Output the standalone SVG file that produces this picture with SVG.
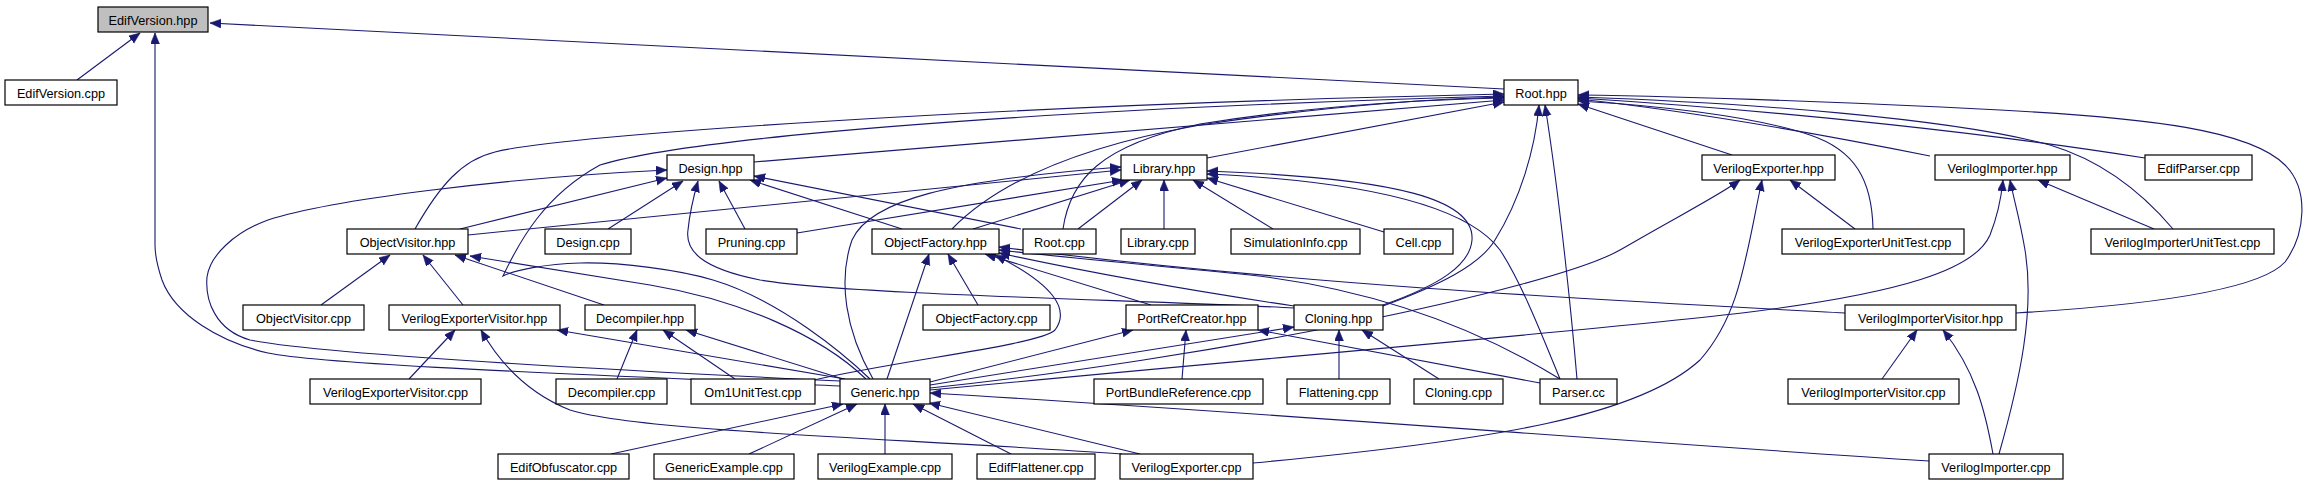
<svg xmlns="http://www.w3.org/2000/svg" width="2308" height="485" viewBox="0 0 2308 485">
<style>
.n rect{fill:#ffffff;stroke:#000000;stroke-width:1.2}
.n.root rect{fill:#bfbfbf}
.n text{font-family:"Liberation Sans",Arial,Helvetica,sans-serif;font-size:12.7px;fill:#000000;text-anchor:middle}
.e path{fill:none;stroke:#191970;stroke-width:1.1;marker-end:url(#arr)}
</style>
<defs>
<marker id="arr" markerUnits="userSpaceOnUse" markerWidth="12" markerHeight="10" refX="11" refY="4.5" orient="auto">
<path d="M0,0 L11,4.5 L0,9 z" fill="#191970" stroke="#191970" stroke-width="0.5"/>
</marker>
</defs>
<rect width="2308" height="485" fill="#ffffff"/>
<g id="edges" class="e">
<path d="M77,80 L140,33"/>
<path d="M840,386 C650,377 330,366 268,353 C220,342 175,315 162,280 C157,265 155,255 155,245 L155,33"/>
<path d="M1504,89 L210,23"/>
<path d="M754,162 L1504,100"/>
<path d="M1207,158 L1504,102"/>
<path d="M415,229 C440,185 462,160 495,152 C560,135 1000,105 1504,94"/>
<path d="M870,379 C845,355 780,300 713,280 C680,270 620,262 580,263 C545,264 515,270 503,276 C520,240 545,195 600,165 C680,140 1000,110 1504,96"/>
<path d="M840,381 C650,372 330,356 250,340 C215,330 205,300 207,277 C210,255 235,232 268,220 C330,200 500,178 667,170"/>
<path d="M952,229 C990,190 1060,150 1200,125 C1300,110 1400,100 1504,97"/>
<path d="M1063,229 C1070,180 1100,145 1200,124 C1300,108 1400,100 1504,98"/>
<path d="M1383,306 C1440,285 1480,265 1495,240 C1520,200 1535,150 1539,105"/>
<path d="M1383,305 C1440,285 1470,265 1472,240 C1475,200 1400,178 1207,171"/>
<path d="M1560,379 C1540,330 1520,280 1500,250 C1470,210 1380,182 1207,174"/>
<path d="M1577,379 C1572,320 1560,200 1545,105"/>
<path d="M1732,155 L1578,104"/>
<path d="M1930,156 C1850,140 1700,112 1578,99"/>
<path d="M2145,158 C2000,135 1800,112 1578,98"/>
<path d="M2016,313 C2150,305 2260,290 2285,262 C2305,235 2310,190 2285,165 C2250,130 2150,118 2000,110 C1800,100 1650,96 1578,95"/>
<path d="M2173,229 C2140,190 2100,160 2050,145 C1950,118 1750,103 1578,97"/>
<path d="M1873,229 C1872,180 1855,150 1810,135 C1750,115 1650,105 1578,101"/>
<path d="M608,229 L683,181"/>
<path d="M460,229 L667,178"/>
<path d="M1294,308 C1150,300 850,295 760,280 C700,268 685,250 688,230 C690,210 694,195 698,181"/>
<path d="M745,229 L719,181"/>
<path d="M902,229 L750,180"/>
<path d="M1021,229 L754,176"/>
<path d="M866,379 C820,335 740,300 650,285 L470,256"/>
<path d="M321,305 L390,255"/>
<path d="M463,305 L423,255"/>
<path d="M604,305 L455,255"/>
<path d="M468,235 L1121,170"/>
<path d="M873,379 C845,330 838,280 852,240 C870,200 950,180 1121,167"/>
<path d="M797,233 L1123,180"/>
<path d="M973,229 L1130,180"/>
<path d="M1078,229 L1142,180"/>
<path d="M1164,229 L1164,180"/>
<path d="M1273,229 L1193,180"/>
<path d="M1384,232 L1207,178"/>
<path d="M814,380 C900,360 1040,345 1055,330 C1070,310 1055,285 995,255"/>
<path d="M887,379 L929,254"/>
<path d="M978,305 L948,254"/>
<path d="M1151,305 L985,254"/>
<path d="M1294,306 C1200,292 1100,275 999,253"/>
<path d="M1845,313 C1600,300 1300,285 999,247"/>
<path d="M1560,379 C1480,330 1380,290 1250,275 C1150,265 1050,256 999,250"/>
<path d="M617,379 L637,330"/>
<path d="M735,379 L663,330"/>
<path d="M843,379 L686,330"/>
<path d="M845,379 L557,330"/>
<path d="M409,379 L455,330"/>
<path d="M1122,454 C900,438 640,432 570,410 C525,392 498,360 481,330"/>
<path d="M1182,379 L1186,330"/>
<path d="M930,382 L1133,330"/>
<path d="M1540,383 L1258,330"/>
<path d="M1339,379 L1339,330"/>
<path d="M1439,379 L1362,330"/>
<path d="M930,385 L1294,327"/>
<path d="M930,388 C1200,360 1550,290 1620,250 C1680,215 1720,195 1740,180"/>
<path d="M1253,463 C1500,440 1640,415 1700,360 C1740,315 1745,260 1762,180"/>
<path d="M1855,229 L1790,180"/>
<path d="M930,390 C1300,355 1600,330 1750,312 C1900,293 1975,270 1990,235 C1998,215 2001,200 2003,180"/>
<path d="M1999,454 C2020,380 2035,310 2025,250 C2020,220 2014,200 2010,180"/>
<path d="M2154,229 L2038,180"/>
<path d="M1882,379 L1917,330"/>
<path d="M1993,454 C1985,410 1975,370 1943,330"/>
<path d="M1929,461 C1600,440 1300,415 930,393"/>
<path d="M611,454 L843,404"/>
<path d="M749,454 L857,404"/>
<path d="M885,454 L885,404"/>
<path d="M1011,454 L913,404"/>
<path d="M1140,454 L929,403"/>
</g>
<g id="n_EdifVersion_hpp" class="n root"><rect x="98" y="7" width="110" height="25"/><text x="153" y="24.5">EdifVersion.hpp</text></g>
<g id="n_EdifVersion_cpp" class="n"><rect x="5" y="80" width="112" height="25"/><text x="61" y="97.5">EdifVersion.cpp</text></g>
<g id="n_Root_hpp" class="n"><rect x="1504" y="80" width="74" height="25"/><text x="1541" y="97.5">Root.hpp</text></g>
<g id="n_Design_hpp" class="n"><rect x="667" y="155" width="87" height="25"/><text x="710.5" y="172.5">Design.hpp</text></g>
<g id="n_Library_hpp" class="n"><rect x="1121" y="155" width="86" height="25"/><text x="1164" y="172.5">Library.hpp</text></g>
<g id="n_VerilogExporter_hpp" class="n"><rect x="1702" y="155" width="133" height="25"/><text x="1768.5" y="172.5">VerilogExporter.hpp</text></g>
<g id="n_VerilogImporter_hpp" class="n"><rect x="1935" y="155" width="135" height="25"/><text x="2002.5" y="172.5">VerilogImporter.hpp</text></g>
<g id="n_EdifParser_cpp" class="n"><rect x="2145" y="155" width="107" height="25"/><text x="2198.5" y="172.5">EdifParser.cpp</text></g>
<g id="n_ObjectVisitor_hpp" class="n"><rect x="347" y="229" width="121" height="25"/><text x="407.5" y="246.5">ObjectVisitor.hpp</text></g>
<g id="n_Design_cpp" class="n"><rect x="545" y="229" width="86" height="25"/><text x="588" y="246.5">Design.cpp</text></g>
<g id="n_Pruning_cpp" class="n"><rect x="706" y="229" width="91" height="25"/><text x="751.5" y="246.5">Pruning.cpp</text></g>
<g id="n_ObjectFactory_hpp" class="n"><rect x="872" y="229" width="127" height="25"/><text x="935.5" y="246.5">ObjectFactory.hpp</text></g>
<g id="n_Root_cpp" class="n"><rect x="1023" y="229" width="73" height="25"/><text x="1059.5" y="246.5">Root.cpp</text></g>
<g id="n_Library_cpp" class="n"><rect x="1121" y="229" width="74" height="25"/><text x="1158" y="246.5">Library.cpp</text></g>
<g id="n_SimulationInfo_cpp" class="n"><rect x="1231" y="229" width="129" height="25"/><text x="1295.5" y="246.5">SimulationInfo.cpp</text></g>
<g id="n_Cell_cpp" class="n"><rect x="1384" y="229" width="69" height="25"/><text x="1418.5" y="246.5">Cell.cpp</text></g>
<g id="n_VerilogExporterUnitTest_cpp" class="n"><rect x="1782" y="229" width="182" height="25"/><text x="1873" y="246.5">VerilogExporterUnitTest.cpp</text></g>
<g id="n_VerilogImporterUnitTest_cpp" class="n"><rect x="2091" y="229" width="183" height="25"/><text x="2182.5" y="246.5">VerilogImporterUnitTest.cpp</text></g>
<g id="n_ObjectVisitor_cpp" class="n"><rect x="243" y="305" width="121" height="25"/><text x="303.5" y="322.5">ObjectVisitor.cpp</text></g>
<g id="n_VerilogExporterVisitor_hpp" class="n"><rect x="389" y="305" width="171" height="25"/><text x="474.5" y="322.5">VerilogExporterVisitor.hpp</text></g>
<g id="n_Decompiler_hpp" class="n"><rect x="585" y="305" width="110" height="25"/><text x="640" y="322.5">Decompiler.hpp</text></g>
<g id="n_ObjectFactory_cpp" class="n"><rect x="923" y="305" width="127" height="25"/><text x="986.5" y="322.5">ObjectFactory.cpp</text></g>
<g id="n_PortRefCreator_hpp" class="n"><rect x="1126" y="305" width="132" height="25"/><text x="1192" y="322.5">PortRefCreator.hpp</text></g>
<g id="n_Cloning_hpp" class="n"><rect x="1294" y="305" width="89" height="25"/><text x="1338.5" y="322.5">Cloning.hpp</text></g>
<g id="n_VerilogImporterVisitor_hpp" class="n"><rect x="1845" y="305" width="171" height="25"/><text x="1930.5" y="322.5">VerilogImporterVisitor.hpp</text></g>
<g id="n_VerilogExporterVisitor_cpp" class="n"><rect x="310" y="379" width="171" height="25"/><text x="395.5" y="396.5">VerilogExporterVisitor.cpp</text></g>
<g id="n_Decompiler_cpp" class="n"><rect x="556" y="379" width="111" height="25"/><text x="611.5" y="396.5">Decompiler.cpp</text></g>
<g id="n_Om1UnitTest_cpp" class="n"><rect x="691" y="379" width="124" height="25"/><text x="753" y="396.5">Om1UnitTest.cpp</text></g>
<g id="n_Generic_hpp" class="n"><rect x="840" y="379" width="90" height="25"/><text x="885" y="396.5">Generic.hpp</text></g>
<g id="n_PortBundleReference_cpp" class="n"><rect x="1094" y="379" width="169" height="25"/><text x="1178.5" y="396.5">PortBundleReference.cpp</text></g>
<g id="n_Flattening_cpp" class="n"><rect x="1287" y="379" width="103" height="25"/><text x="1338.5" y="396.5">Flattening.cpp</text></g>
<g id="n_Cloning_cpp" class="n"><rect x="1414" y="379" width="89" height="25"/><text x="1458.5" y="396.5">Cloning.cpp</text></g>
<g id="n_Parser_cc" class="n"><rect x="1540" y="379" width="77" height="25"/><text x="1578.5" y="396.5">Parser.cc</text></g>
<g id="n_VerilogImporterVisitor_cpp" class="n"><rect x="1788" y="379" width="171" height="25"/><text x="1873.5" y="396.5">VerilogImporterVisitor.cpp</text></g>
<g id="n_EdifObfuscator_cpp" class="n"><rect x="498" y="454" width="131" height="25"/><text x="563.5" y="471.5">EdifObfuscator.cpp</text></g>
<g id="n_GenericExample_cpp" class="n"><rect x="654" y="454" width="140" height="25"/><text x="724" y="471.5">GenericExample.cpp</text></g>
<g id="n_VerilogExample_cpp" class="n"><rect x="818" y="454" width="134" height="25"/><text x="885" y="471.5">VerilogExample.cpp</text></g>
<g id="n_EdifFlattener_cpp" class="n"><rect x="977" y="454" width="118" height="25"/><text x="1036" y="471.5">EdifFlattener.cpp</text></g>
<g id="n_VerilogExporter_cpp" class="n"><rect x="1120" y="454" width="133" height="25"/><text x="1186.5" y="471.5">VerilogExporter.cpp</text></g>
<g id="n_VerilogImporter_cpp" class="n"><rect x="1929" y="454" width="134" height="25"/><text x="1996" y="471.5">VerilogImporter.cpp</text></g>
</svg>
